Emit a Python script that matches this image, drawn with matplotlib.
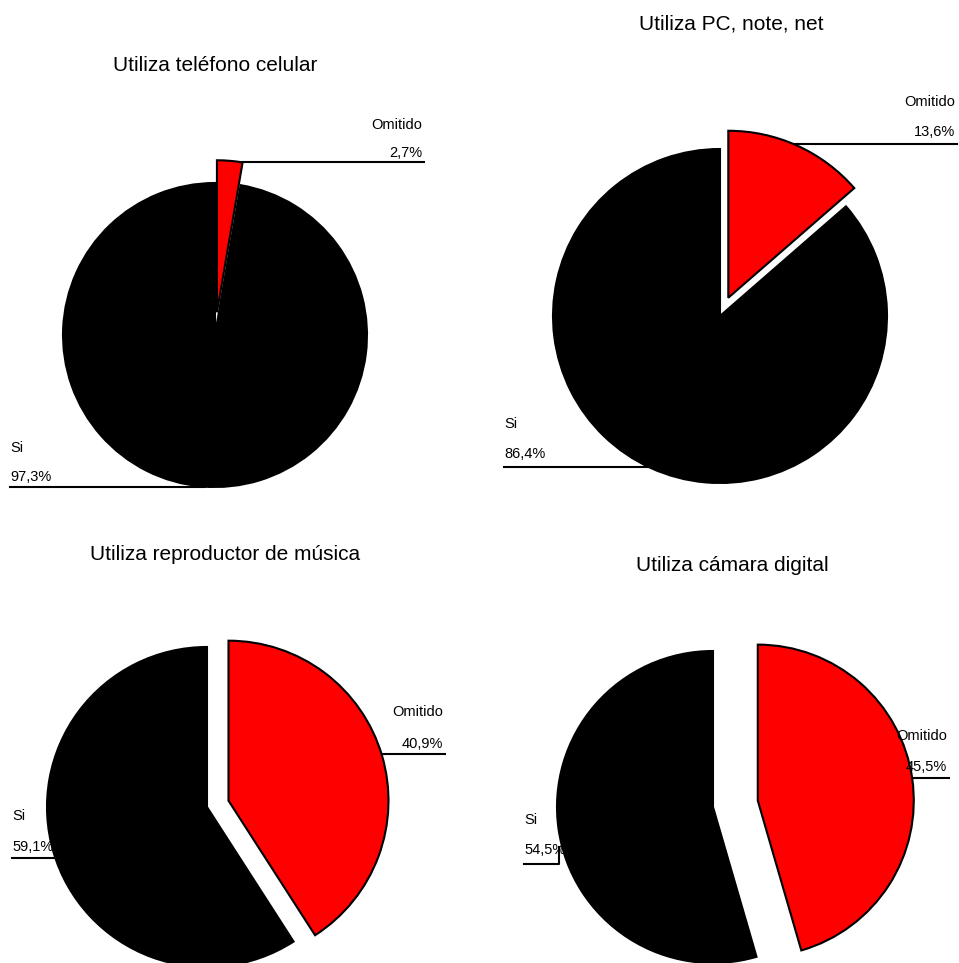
import matplotlib
matplotlib.use("Agg")
import matplotlib.pyplot as plt

# ---- data ----
titles = ["Utiliza teléfono celular", "Utiliza PC, note, net",
          "Utiliza reproductor de música", "Utiliza cámara digital"]
categories = ["Si", "Omitido"]
si_values = [97.3, 86.4, 59.1, 54.5]
omitido_values = [2.7, 13.6, 40.9, 45.5]

# ---- layout (pixel coordinates, y measured from top) ----
W, H = 959, 963
centers = [(215, 335), (720, 316), (207, 807), (713, 807)]
radii = [152, 167, 160, 156]
explodes = [0.15, 0.12, 0.14, 0.29]   # fraction of radius
title_pos = [(215, 71), (731, 29), (225, 560), (732, 571)]  # baseline
# Omitido label: (right x, name y, pct y, line y, line x start)
om_lab = [(422, 125, 153, 162, 235), (955, 102, 132, 144, 790),
          (443, 712, 744, 754, 375), (947, 736, 767, 778, 905)]
# Si label: (left x, name y, pct y, line y, line x end, vertical end y or None)
si_lab = [(10, 448, 477, 487, 205, None), (504, 424, 454, 467, 660, None),
          (12, 816, 847, 858, 60, None), (524, 820, 850, 864, 559, 847)]

def fy(y):
    return H - y

def fmt(v):
    return f"{v:.1f}".replace(".", ",") + "%"

plt.rcParams['font.family'] = ['Liberation Sans', 'DejaVu Sans']
fig = plt.figure(figsize=(W / 100, H / 100), dpi=100)
ax = fig.add_axes([0, 0, 1, 1])

for i in range(4):
    cx, cy = centers[i]
    wedges, _ = ax.pie([omitido_values[i], si_values[i]], colors=['#ff0000', 'black'],
                       startangle=90, counterclock=False,
                       explode=[explodes[i] * radii[i], 0], center=(cx, fy(cy)),
                       radius=radii[i],
                       wedgeprops=dict(edgecolor='black', linewidth=1.5),
                       frame=True)
    for w in wedges:
        w.set_zorder(3)
    ax.text(title_pos[i][0], fy(title_pos[i][1]), titles[i], ha='center', va='baseline',
            fontsize=15, color='black')
    # Omitido label
    rx, ny, py, ly, lx0 = om_lab[i]
    ax.text(rx, fy(ny), categories[1], ha='right', va='center', fontsize=10.5, zorder=5)
    ax.text(rx, fy(py), fmt(omitido_values[i]), ha='right', va='center', fontsize=10.5, zorder=5)
    ax.plot([lx0, rx + 2], [fy(ly), fy(ly)], color='black', lw=1.5, zorder=2)
    # Si label
    lx, ny, py, ly, lx1, vy = si_lab[i]
    ax.text(lx, fy(ny), categories[0], ha='left', va='center', fontsize=10.5, zorder=1)
    ax.text(lx, fy(py), fmt(si_values[i]), ha='left', va='center', fontsize=10.5, zorder=1)
    xs = [lx, lx1]
    ys = [fy(ly), fy(ly)]
    if vy is not None:
        xs.append(lx1)
        ys.append(fy(vy))
    ax.plot(xs, ys, color='black', lw=1.5, zorder=2)

ax.set_xlim(0, W)
ax.set_ylim(0, H)
ax.set_aspect('equal')
ax.axis('off')
fig.savefig("out.png", dpi=100, facecolor='white')
